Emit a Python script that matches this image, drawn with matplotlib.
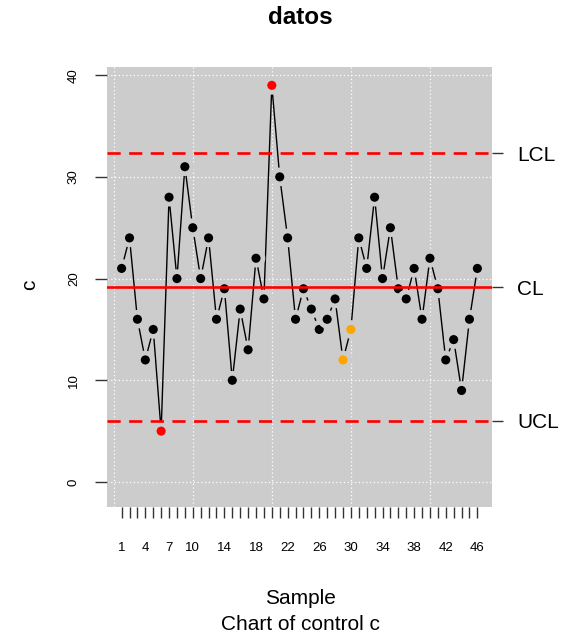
import matplotlib
matplotlib.use("Agg")
import matplotlib.pyplot as plt
import numpy as np

plt.rcParams['font.family'] = ['Liberation Sans', 'DejaVu Sans']

# === Datos ===
muestra = list(range(1, 47))
conteos = [21, 24, 16, 12, 15, 5, 28, 20, 31, 25,
           20, 24, 16, 19, 10, 17, 13, 22, 18, 39,
           30, 24, 16, 19, 17, 15, 16, 18, 12, 15,
           24, 21, 28, 20, 25, 19, 18, 21, 16, 22,
           19, 12, 14, 9, 16, 21]
fuera_control = [6, 20]      # puntos en rojo
rachas = [29, 30]            # puntos en naranja
limite_sup = 32.31
linea_central = 19.17
limite_inf = 6.04
etiquetas_limites = ["LCL", "CL", "UCL"]
ticks_x_etiquetados = [1, 4, 7, 10, 14, 18, 22, 26, 30, 34, 38, 42, 46]

# === Figura ===
fig = plt.figure(figsize=(5.61, 6.36), dpi=100)
ax = fig.add_axes([0.1907, 0.2028, 0.6863, 0.6918])
ax.set_facecolor('#CCCCCC')
for s in ax.spines.values():
    s.set_visible(False)

ax.set_xlim(-0.85, 47.85)
ax.set_ylim(-2.46, 40.8)

# grilla punteada blanca
for gx in [0, 10, 20, 30, 40]:
    ax.axvline(gx, color='white', linestyle=(0, (1, 2)), linewidth=0.9, zorder=1)
for gy in [0, 10, 20, 30, 40]:
    ax.axhline(gy, color='white', linestyle=(0, (1, 2)), linewidth=0.9, zorder=1)

# línea y puntos (tipo "b")
ax.plot(muestra, conteos, color='black', linewidth=1.0, zorder=2)
colores = []
for m in muestra:
    if m in fuera_control:
        colores.append('#FF0000')
    elif m in rachas:
        colores.append('#FFA500')
    else:
        colores.append('black')
ax.scatter(muestra, conteos, s=100, c=colores, edgecolors='#CCCCCC',
           linewidths=3.4, zorder=3)

# límites
ax.axhline(limite_sup, color='#FF0000', linewidth=1.9, linestyle=(0, (5, 3.2)), zorder=4)
ax.axhline(linea_central, color='#FF0000', linewidth=1.9, zorder=4)
ax.axhline(limite_inf, color='#FF0000', linewidth=1.9, linestyle=(0, (5, 3.2)), zorder=4)

# ejes
ax.set_xticks(muestra)
ax.set_xticklabels([str(m) if m in ticks_x_etiquetados else "" for m in muestra])
ax.tick_params(axis='x', length=8, width=1, color='#333333', pad=17, labelsize=9.5)
ax.set_yticks([0, 10, 20, 30, 40])
ax.set_yticklabels(["0", "10", "20", "30", "40"], rotation=90, va='center')
ax.tick_params(axis='y', length=8.5, width=1, color='#333333', pad=11, labelsize=9.5)

ax2 = ax.twinx()
for s in ax2.spines.values():
    s.set_visible(False)
ax2.set_ylim(ax.get_ylim())
ax2.set_yticks([limite_sup, linea_central, limite_inf])
ax2.set_yticklabels(etiquetas_limites)
ax2.tick_params(axis='y', length=8, width=1, color='#333333', pad=10, labelsize=15)

# textos
fig.text(0.535, 1 - 17 / 636, "datos", ha='center', va='center',
         fontsize=17.5, fontweight='bold')
fig.text(0.535, 1 - 598 / 636, "Sample", ha='center', va='center', fontsize=15)
fig.text(0.535, 1 - 624 / 636, "Chart of control c", ha='center', va='center', fontsize=15)
fig.text(30 / 561, 1 - 285 / 636, "c", ha='center', va='center', fontsize=15, rotation=90)

fig.savefig("out.png", dpi=100)
